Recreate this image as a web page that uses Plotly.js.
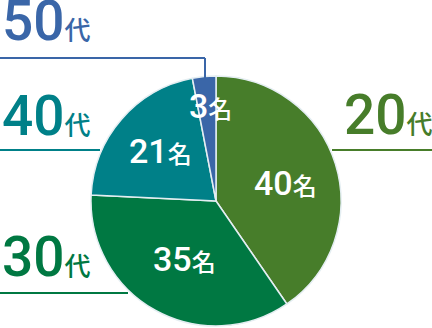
<!DOCTYPE html>
<html>
<head>
<meta charset="utf-8">
<script src="https://cdn.plot.ly/plotly-3.0.1.min.js"></script>
<style>html,body{margin:0;padding:0;background:#fff;}#chart{width:432px;height:328px;}</style>
</head>
<body>
<div id="chart"></div>
<script>
// ---- data ----
const ageNums = ['20', '30', '40', '50'];
const ageSuffix = '代';
const counts = [40, 35, 21, 3];
const countSuffix = '名';
const colors = ['#477d2a', '#007842', '#008088', '#3a66a8'];

const W = 432, H = 328;
const px = x => x / W;
const py = y => 1 - y / H;
const FONT = "Roboto, 'Noto Sans CJK JP', sans-serif";

// layout positions (pixels)
const outerPos = [
  {x: 342, y: 115, lineY: 150, x0: 332, x1: 432},
  {x: 0, y: 257, lineY: 293, x0: 0, x1: 128},
  {x: 0, y: 116, lineY: 150, x0: 0, x1: 100},
  {x: 0, y: 21, lineY: 58, x0: 0, x1: 205}
];
const innerPos = [[285, 183], [184, 259], [160, 151], [210, 106]];

const trace = {
  type: 'pie',
  values: counts,
  labels: ageNums.map(a => a + ageSuffix),
  marker: {colors: colors, line: {color: '#e4eef2', width: 1.5}},
  sort: false,
  direction: 'clockwise',
  rotation: 0,
  textinfo: 'none',
  hoverinfo: 'none',
  domain: {x: [px(91), px(341)], y: [py(326), py(76)]},
  showlegend: false
};

const annotations = [];
const shapes = [];
ageNums.forEach((a, i) => {
  const p = outerPos[i];
  annotations.push({
    xref: 'paper', yref: 'paper', x: px(p.x), y: py(p.y),
    xanchor: 'left', yanchor: 'middle', showarrow: false,
    text: a + '<span style="font-size:26px">' + ageSuffix + '</span>',
    font: {family: FONT, size: 55, color: colors[i], weight: 500}
  });
  shapes.push({type: 'line', xref: 'paper', yref: 'paper',
    x0: px(p.x0), x1: px(p.x1), y0: py(p.lineY), y1: py(p.lineY),
    line: {color: colors[i], width: 2}});
  const q = innerPos[i];
  annotations.push({
    xref: 'paper', yref: 'paper', x: px(q[0]), y: py(q[1]),
    xanchor: 'center', yanchor: 'middle', showarrow: false,
    text: counts[i] + '<span style="font-size:24px">' + countSuffix + '</span>',
    font: {family: FONT, size: 34, color: '#ffffff', weight: 500}
  });
});
// 50代 vertical leader
shapes.push({type: 'line', xref: 'paper', yref: 'paper',
  x0: px(205), x1: px(205), y0: py(58), y1: py(78),
  line: {color: colors[3], width: 2}});

Plotly.newPlot('chart', [trace], {
  width: W, height: H,
  margin: {l: 0, r: 0, t: 0, b: 0},
  paper_bgcolor: '#ffffff',
  annotations: annotations,
  shapes: shapes
}, {staticPlot: true});
</script>
</body>
</html>
